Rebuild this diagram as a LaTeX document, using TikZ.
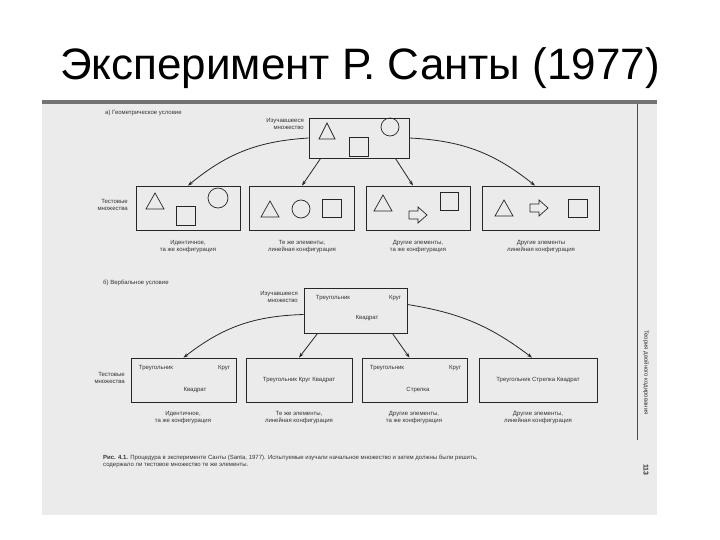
\documentclass[tikz,border=0pt]{standalone}
\usepackage{fontspec}
\setmainfont{Liberation Sans}
\usetikzlibrary{arrows.meta}
\begin{document}
\begin{tikzpicture}[x=1pt,y=-1pt,
  bx/.style={draw=black!85,line width=0.8pt},
  shp/.style={draw=black!85,line width=0.7pt},
  sm/.style={font=\fontsize{6}{7}\selectfont,text=black!80,inner sep=0pt},
  captx/.style={sm,align=center},
  arr/.style={draw=black!85,line width=0.8pt,-{Stealth[length=5pt,width=3.5pt]}}]
\useasboundingbox (0,0) rectangle (720,540);
\fill[white] (0,0) rectangle (720,540);
\node[font=\fontsize{44}{50}\selectfont] (title) at (360,68) {Эксперимент Р. Санты (1977)};
\fill[black!8] (42,100) rectangle (657,515);
\fill[black!55] (42,100) rectangle (657,104);
\draw[black!70,line width=0.6pt] (637,104) -- (637,440);
\node[sm,rotate=-90,anchor=west] (side) at (646,330) {Теория двойного кодирования};
\node[sm,rotate=-90,font=\fontsize{7}{8}\selectfont\bfseries] (pg) at (646,470) {113};
% a)
\node[sm,anchor=west] (ha) at (105,113) {а) Геометрическое условие};
\node[bx,minimum width=100pt,minimum height=40pt,inner sep=0pt] (S) at (359,138) {};
\node[captx,anchor=east,align=right] (sl) at (304,124) {Изучавшееся\\множество};
\draw[shp] (319,139) -- (327,123) -- (335,139) -- cycle;
\draw[shp] (349,137) rectangle (368,156);
\draw[shp] (390,127) circle (9);
\foreach \n/\x/\w in {A/188/104,B/302/105,C/418/104,D/541/117}
  \node[bx,minimum width=\w pt,minimum height=44pt,inner sep=0pt] (\n) at (\x,208) {};
\node[captx,anchor=east,align=right] (tl) at (128,205) {Тестовые\\множества};
\draw[shp] (146,209) -- (155,193) -- (164,209) -- cycle;
\draw[shp] (176,206) rectangle (195,225);
\draw[shp] (218,198) circle (10);
\draw[shp] (261,217) -- (270,201) -- (279,217) -- cycle;
\draw[shp] (301,209) circle (9);
\draw[shp] (322,199) rectangle (341,217);
\draw[shp] (374,211) -- (383,195) -- (392,211) -- cycle;
\draw[shp] (409,211)--(418,211)--(418,207)--(427,215)--(418,223)--(418,219)--(409,219)--cycle;
\draw[shp] (440,192) rectangle (458,210);
\draw[shp] (495,216) -- (504,200) -- (513,216) -- cycle;
\draw[shp] (530,204)--(539,204)--(539,200)--(548,208)--(539,216)--(539,212)--(530,212)--cycle;
\draw[shp] (568,199) rectangle (587,217);
\node[captx] (ca) at (188,247) {Идентичное,\\та же конфигурация};
\node[captx] (cb) at (302,247) {Те же элементы,\\линейная конфигурация};
\node[captx] (cc) at (418,247) {Другие элементы,\\та же конфигурация};
\node[captx] (cd) at (541,247) {Другие элементы\\линейная конфигурация};
\draw[arr] (S.west) to[bend right=18] (A.north);
\draw[arr] ([xshift=12pt]S.south west) -- (B.north);
\draw[arr] ([xshift=-14pt]S.south east) -- ([xshift=-5pt]C.north);
\draw[arr] (S.east) to[bend left=18] ([xshift=-6pt]D.north);
% b)
\node[sm,anchor=west] (hb) at (103,283) {б) Вербальное условие};
\node[bx,minimum width=103pt,minimum height=45pt,inner sep=0pt] (V) at (355.5,310.5) {};
\node[captx,anchor=east,align=right] (vl) at (298,297) {Изучавшееся\\множество};
\node[sm] (v1) at (333,298) {Треугольник};
\node[sm] (v2) at (395,298) {Круг};
\node[sm] (v3) at (367,318) {Квадрат};
\foreach \n/\x/\w in {E/183.5/105,F/299/106,G/414.5/105,H/538/118}
  \node[bx,minimum width=\w pt,minimum height=44pt,inner sep=0pt] (\n) at (\x,380) {};
\node[captx,anchor=east,align=right] (tl2) at (125,378) {Тестовые\\множества};
\node[sm] (e1) at (156,368) {Треугольник};
\node[sm] (e2) at (224,368) {Круг};
\node[sm] (e3) at (195,390) {Квадрат};
\node[sm] (f1) at (F) {Треугольник Круг Квадрат};
\node[sm] (g1) at (387,368) {Треугольник};
\node[sm] (g2) at (455,368) {Круг};
\node[sm] (g3) at (418,390) {Стрелка};
\node[sm] (h1) at (H) {Треугольник Стрелка Квадрат};
\node[captx] (ce) at (183,418) {Идентичное,\\та же конфигурация};
\node[captx] (cf) at (299,418) {Те же элементы,\\линейная конфигурация};
\node[captx] (cg) at (414,418) {Другие элементы,\\та же конфигурация};
\node[captx] (ch) at (538,418) {Другие элементы,\\линейная конфигурация};
\draw[arr] ([yshift=-4pt]V.west) to[bend right=18] (E.north);
\draw[arr] ([xshift=14pt]V.south west) -- (F.north);
\draw[arr] ([xshift=-15pt]V.south east) -- ([xshift=-5pt]G.north);
\draw[arr] ([yshift=6pt]V.east) to[bend left=14] ([xshift=-6pt]H.north);
\node[sm,anchor=west,align=left] (fig) at (103,461) {\textbf{Рис. 4.1.} Процедура в эксперименте Санты (Santa, 1977). Испытуемые изучали начальное множество и затем должны были решить,\\содержало ли тестовое множество те же элементы.};
\end{tikzpicture}
\end{document}
